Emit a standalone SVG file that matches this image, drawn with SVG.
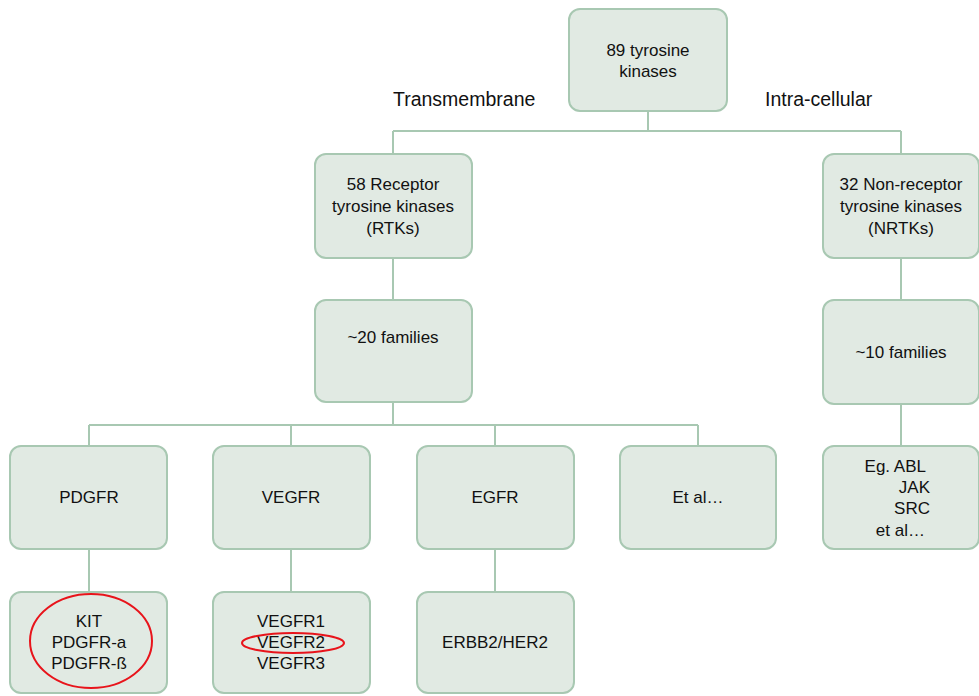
<svg xmlns="http://www.w3.org/2000/svg" width="979" height="696" viewBox="0 0 979 696">
<style>
.box{fill:#e1eae3;stroke:#a8c8b2;stroke-width:2}
.ln{fill:none;stroke:#a8c8b2;stroke-width:2}
.t{font-family:"Liberation Sans",Arial,sans-serif;font-size:17px;fill:#111;text-anchor:middle}
.e{text-anchor:end}
.lab{font-family:"Liberation Sans",Arial,sans-serif;font-size:19.5px;fill:#111}
.hl{fill:none;stroke:#e8141b;stroke-width:2}
</style>
<rect width="979" height="696" fill="#fff"/>
<g id="connectors">
<path class="ln" d="M648 111V131M393 131H901M393 131V154M901 131V154"/>
<path class="ln" d="M393 258V300M901 258V300M393 402V425M89 425H698M89 425V446M291 425V446M495 425V446M698 425V446"/>
<path class="ln" d="M901 404V446M89 549V592M291 549V592M495 549V592"/>
</g>
<text class="lab" x="393" y="106">Transmembrane</text>
<text class="lab" x="765" y="106">Intra-cellular</text>
<g id="n_root"><rect class="box" x="569" y="9" width="158" height="102" rx="11"/><text class="t" x="648" y="56">89 tyrosine</text><text class="t" x="648" y="77">kinases</text></g>
<g id="n_rtk"><rect class="box" x="315" y="154" width="157" height="104" rx="11"/><text class="t" x="393" y="190">58 Receptor</text><text class="t" x="393" y="212">tyrosine kinases</text><text class="t" x="393" y="234">(RTKs)</text></g>
<g id="n_nrtk"><rect class="box" x="823" y="154" width="156" height="104" rx="11"/><text class="t" x="901" y="190">32 Non-receptor</text><text class="t" x="901" y="212">tyrosine kinases</text><text class="t" x="901" y="234">(NRTKs)</text></g>
<g id="n_f20"><rect class="box" x="315" y="300" width="157" height="102" rx="11"/><text class="t" x="393" y="343">~20 families</text></g>
<g id="n_f10"><rect class="box" x="823" y="300" width="156" height="104" rx="11"/><text class="t" x="901" y="358">~10 families</text></g>
<g id="n_pdgfr"><rect class="box" x="10" y="446" width="157" height="103" rx="11"/><text class="t" x="89" y="503">PDGFR</text></g>
<g id="n_vegfr"><rect class="box" x="213" y="446" width="157" height="103" rx="11"/><text class="t" x="291" y="503">VEGFR</text></g>
<g id="n_egfr"><rect class="box" x="417" y="446" width="157" height="103" rx="11"/><text class="t" x="495" y="503">EGFR</text></g>
<g id="n_etal"><rect class="box" x="620" y="446" width="156" height="103" rx="11"/><text class="t" x="698" y="503">Et al…</text></g>
<g id="n_eg"><rect class="box" x="823" y="446" width="156" height="103" rx="11"/>
<text class="t e" x="926" y="472">Eg. ABL</text><text class="t e" x="930" y="493">JAK</text><text class="t e" x="930" y="514">SRC</text><text class="t e" x="925" y="536">et al…</text></g>
<g id="n_kit"><rect class="box" x="10" y="592" width="157" height="101" rx="11"/><text class="t" x="89" y="627">KIT</text><text class="t" x="89" y="648">PDGFR-a</text><text class="t" x="89" y="669">PDGFR-ß</text>
<ellipse class="hl" cx="91" cy="641" rx="61" ry="47"/></g>
<g id="n_vegfr123"><rect class="box" x="213" y="592" width="157" height="101" rx="11"/><text class="t" x="291" y="627">VEGFR1</text><text class="t" x="291" y="648">VEGFR2</text><text class="t" x="291" y="669">VEGFR3</text>
<ellipse class="hl" cx="293" cy="643" rx="51" ry="10"/></g>
<g id="n_erbb2"><rect class="box" x="417" y="592" width="157" height="101" rx="11"/><text class="t" x="495" y="648">ERBB2/HER2</text></g>
</svg>
